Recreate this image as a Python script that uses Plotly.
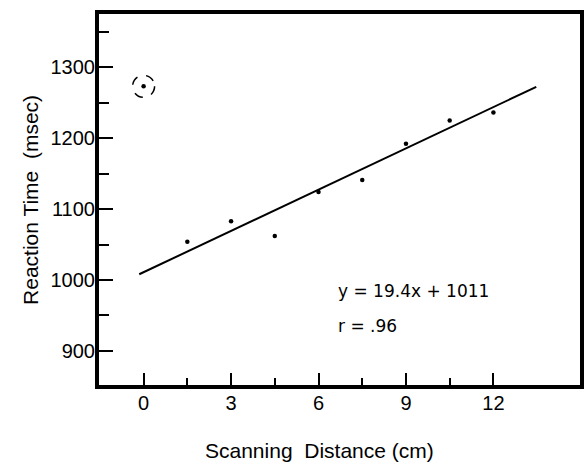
import plotly.graph_objects as go

distance_cm = [0, 1.5, 3, 4.5, 6, 7.5, 9, 10.5, 12]
reaction_ms = [1273, 1054, 1083, 1062, 1124, 1141, 1192, 1225, 1236]

slope = 19.4
intercept = 1011
fit_x = [-0.15, 13.47]
fit_y = [slope * x + intercept for x in fit_x]

x_ticks = [0, 3, 6, 9, 12]
x_minor = [1.5, 4.5, 7.5, 10.5]
y_ticks = [900, 1000, 1100, 1200, 1300]
y_minor = [950, 1050, 1150, 1250, 1350]

FONT = "Liberation Sans, Arial, sans-serif"
EQFONT = "DejaVu Sans, sans-serif"

fig = go.Figure()
fig.add_trace(go.Scatter(x=fit_x, y=fit_y, mode="lines",
                         line=dict(color="black", width=2), hoverinfo="skip"))
fig.add_trace(go.Scatter(x=distance_cm, y=reaction_ms, mode="markers",
                         marker=dict(color="black", size=4.5)))

# dashed circle around outlier
fig.add_shape(type="circle", xref="x", yref="y", xsizemode="pixel", ysizemode="pixel",
              xanchor=distance_cm[0], yanchor=reaction_ms[0],
              x0=-11, x1=11, y0=-11, y1=11,
              line=dict(color="black", width=1.5, dash="dash"))

fig.add_annotation(x=0.493, y=0.254, xref="paper", yref="paper",
                   xanchor="left", yanchor="middle",
                   text="y = 19.4x + 1011", showarrow=False,
                   font=dict(family=EQFONT, size=17, color="black"))
fig.add_annotation(x=0.493, y=0.160, xref="paper", yref="paper",
                   xanchor="left", yanchor="middle",
                   text="r = .96", showarrow=False,
                   font=dict(family=EQFONT, size=17, color="black"))

fig.add_annotation(x=-0.142, y=0.498, xref="paper", yref="paper",
                   xanchor="center", yanchor="middle",
                   text="Reaction Time  (msec)", textangle=-90, showarrow=False,
                   font=dict(family=FONT, size=21, color="black"))
fig.add_annotation(x=0.458, y=-0.177, xref="paper", yref="paper",
                   xanchor="center", yanchor="middle",
                   text="Scanning  Distance (cm)", showarrow=False,
                   font=dict(family=FONT, size=21, color="black"))

fig.update_xaxes(range=[-1.53, 14.97], tickvals=x_ticks, ticks="inside", ticklen=12,
                 tickwidth=2, tickcolor="black", showline=True, linewidth=4,
                 linecolor="black", mirror=True, showgrid=False, zeroline=False,
                 ticklabelstandoff=-3,
                 minor=dict(ticks="inside", ticklen=7, tickwidth=2, tickcolor="black",
                            tickvals=x_minor, showgrid=False),
                 tickfont=dict(family=FONT, size=20, color="black"))
fig.update_yaxes(range=[852, 1375], tickvals=y_ticks, ticks="inside", ticklen=14,
                 tickwidth=2, tickcolor="black", showline=True, linewidth=4,
                 linecolor="black", mirror=True, showgrid=False, zeroline=False,
                 ticklabelstandoff=-4,
                 minor=dict(ticks="inside", ticklen=10, tickwidth=2, tickcolor="black",
                            tickvals=y_minor, showgrid=False),
                 tickfont=dict(family=FONT, size=20, color="black"))

fig.update_layout(width=587, height=464, margin=dict(l=99, r=3, t=14, b=79),
                  plot_bgcolor="white", paper_bgcolor="white", showlegend=False)

fig.write_html("out.html")
